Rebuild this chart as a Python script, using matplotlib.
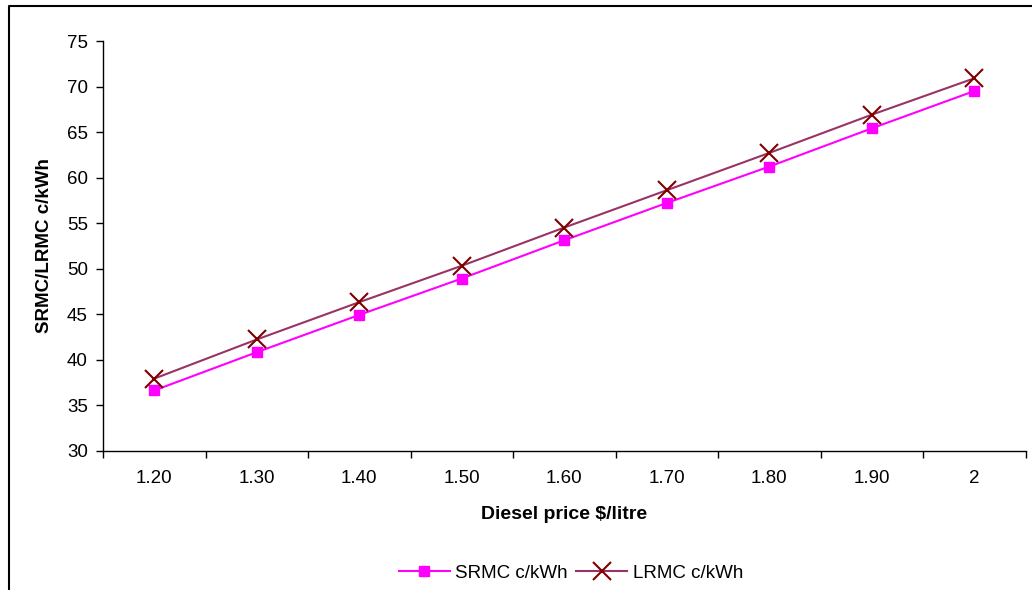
import matplotlib
matplotlib.use("Agg")
import matplotlib.pyplot as plt
from matplotlib.lines import Line2D
from matplotlib.ticker import FixedLocator, NullFormatter

plt.rcParams['font.family'] = ['Liberation Sans', 'DejaVu Sans']

prices = ["1.20", "1.30", "1.40", "1.50", "1.60", "1.70", "1.80", "1.90", "2"]
srmc = [36.6, 40.8, 44.9, 48.9, 53.1, 57.2, 61.2, 65.4, 69.5]
lrmc = [37.9, 42.2, 46.3, 50.3, 54.5, 58.6, 62.7, 66.9, 70.9]
y_ticks = [30, 35, 40, 45, 50, 55, 60, 65, 70, 75]

fig = plt.figure(figsize=(10.32, 5.90), dpi=100)
ax = fig.add_axes([103 / 1032, 1 - 450.5 / 590, (1025.5 - 103) / 1032, (450.5 - 41) / 590])

x = list(range(len(prices)))
ax.plot(x, srmc, color='#FF00FF', lw=1.5, marker='s', ms=7, mfc='#FF00FF', mec='#FF00FF',
        label='SRMC c/kWh', clip_on=False, zorder=3)
ax.plot(x, lrmc, color='#993366', lw=1.5, marker='x', ms=13, mec='#800000', mew=1.5,
        label='LRMC c/kWh', clip_on=False, zorder=3)

ax.set_xlim(-0.5, len(prices) - 0.5)
ax.set_ylim(30, 75)
ax.set_yticks(y_ticks)
ax.tick_params(axis='y', direction='out', length=5, width=1, pad=6, labelsize=13.5)

# category boundaries carry the tick marks, category centres carry the labels
ax.xaxis.set_major_locator(FixedLocator([i - 0.5 for i in range(len(prices) + 1)]))
ax.xaxis.set_major_formatter(NullFormatter())
ax.xaxis.set_minor_locator(FixedLocator(x))
ax.set_xticklabels(prices, minor=True)
ax.tick_params(axis='x', which='major', direction='out', length=5, width=1)
ax.tick_params(axis='x', which='minor', length=0, pad=14, labelsize=13.5)

for side in ('top', 'right'):
    ax.spines[side].set_visible(False)
for side in ('left', 'bottom'):
    ax.spines[side].set_linewidth(1)

ax.set_xlabel('Diesel price $/litre', fontsize=14, fontweight='bold')
ax.set_ylabel('SRMC/LRMC c/kWh', fontsize=13.5, fontweight='bold')
ax.xaxis.set_label_coords(0.5, -0.1575)
ax.yaxis.set_label_coords(-0.0634, 0.5)
ax.xaxis.label.set_va('center')
ax.yaxis.label.set_va('center')

fig.legend(loc='center', bbox_to_anchor=(571 / 1032, 1 - 573 / 590), ncol=2, frameon=False,
           fontsize=13.5, handlelength=2.7, handletextpad=0.3, columnspacing=0.45)

# chart-area border (left and top edges)
fig.add_artist(Line2D([8.5 / 1032, 8.5 / 1032, 1.0], [0.0, 1 - 6 / 590, 1 - 6 / 590],
                      transform=fig.transFigure, color='black', lw=1.5))

fig.savefig('out.png', dpi=100)
